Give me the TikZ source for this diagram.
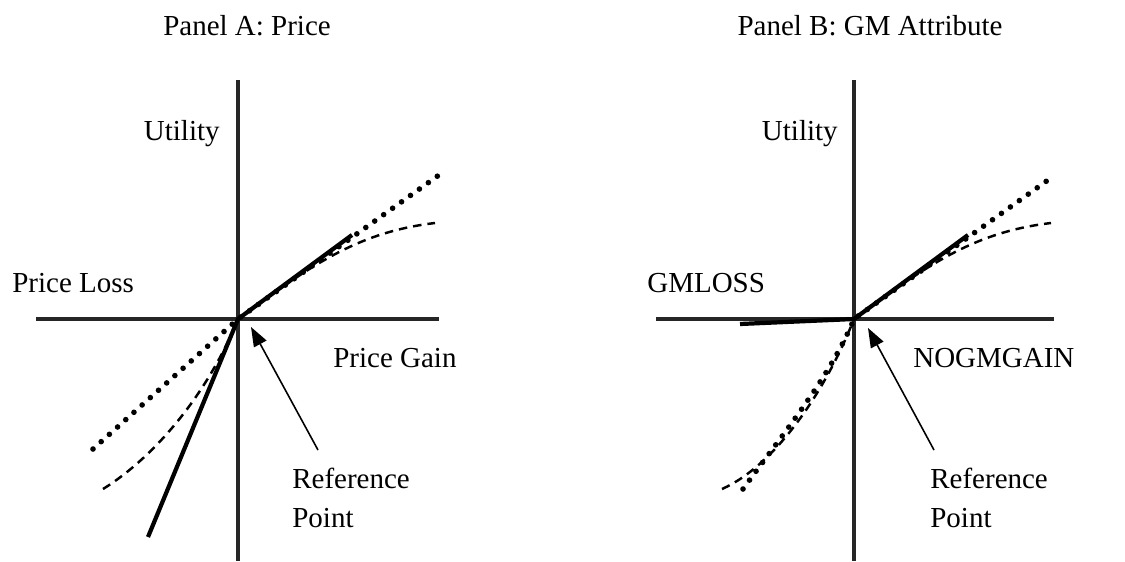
\documentclass[tikz,border=0pt]{standalone}
\usepackage{fontspec}
\setmainfont{Liberation Serif}
\usetikzlibrary{arrows.meta}
\begin{document}
\begin{tikzpicture}[
    x=0.02cm, y=-0.02cm,
    lbl/.style={inner sep=0pt, font=\fontsize{16.5}{22}\selectfont},
    axis/.style={line width=2.8pt, black!85},
    kink/.style={line width=2.4pt},
    dotline/.style={line width=3.2pt, line cap=round, dash pattern=on 0pt off 0.22cm},
    dashline/.style={line width=1.4pt, dash pattern=on 0.17cm off 0.12cm},
    pointer/.style={-{Triangle[length=11pt,width=8pt]}, line width=0.9pt}
]
    \useasboundingbox (0,0) rectangle (1125,561);

    % Panel A
    \node[lbl, anchor=base] (titleA) at (247,35) {Panel A: Price};
    \coordinate (oA) at (238,319);
    \coordinate (tipA) at (251,327);
    \draw[axis] (238,80) -- (238,561);
    \draw[axis] (36,319) -- (439,319);
    \node[lbl, anchor=base east] (utilA) at (220,140) {Utility};
    \node[lbl, anchor=base west] (lossA) at (12,292) {Price Loss};
    \node[lbl, anchor=base west] (gainA) at (333,367) {Price Gain};
    \node[lbl, anchor=north west, align=left] (refA) at (292,468) {Reference\\Point};

    % Kurven A
    \draw[dotline] (93,449) -- (oA) -- (439,175);
    \draw[dashline] (103,489) .. controls (150,460) and (205,400) .. (oA)
        .. controls (315,262) and (360,232) .. (435,223);
    \draw[kink] (148,537) -- (oA) -- (352,235);
    \draw[pointer] ([shift={(26,-18)}]refA.north west) -- (tipA);

    % Panel B
    \node[lbl, anchor=base] (titleB) at (870,35) {Panel B: GM Attribute};
    \coordinate (oB) at (854,319);
    \coordinate (tipB) at (868,328);
    \draw[axis] (854,80) -- (854,561);
    \draw[axis] (656,319) -- (1054,319);
    \node[lbl, anchor=base east] (utilB) at (838,140) {Utility};
    \node[lbl, anchor=base west] (lossB) at (647,292) {GMLOSS};
    \node[lbl, anchor=base west] (gainB) at (913,367) {NOGMGAIN};
    \node[lbl, anchor=north west, align=left] (refB) at (930,468) {Reference\\Point};

    % Kurven B
    \draw[dotline] (743,489) .. controls (786,430) and (831,375) .. (oB) -- (1055,175);
    \draw[dashline] (722,489) .. controls (776,465) and (826,390) .. (oB)
        .. controls (931,262) and (976,232) .. (1051,223);
    \draw[kink] (740,324) -- (oB) -- (968,235);
    \draw[pointer] ([shift={(4,-18)}]refB.north west) -- (tipB);
\end{tikzpicture}
\end{document}
